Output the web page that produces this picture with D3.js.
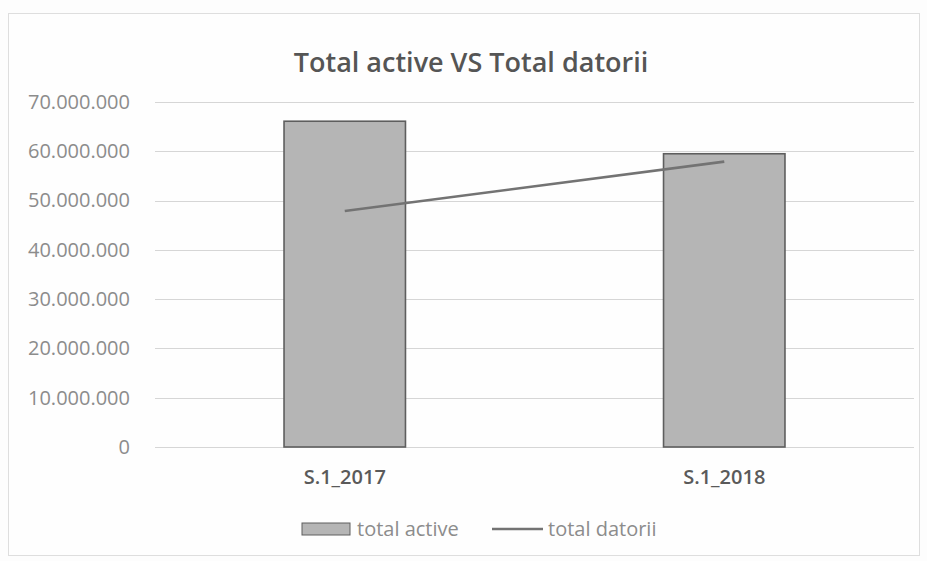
<!DOCTYPE html>
<html>
<head>
<meta charset="utf-8">
<script src="https://cdn.jsdelivr.net/npm/d3@7"></script>
<style>
  html, body { margin: 0; padding: 0; background: #fdfdfd; }
  svg { display: block; }
</style>
</head>
<body>
<svg id="chart" width="927" height="561"></svg>
<script>
// ---- data ----
const categories = ["S.1_2017", "S.1_2018"];
const totalActive = [66100000, 59500000];
const totalDatorii = [47900000, 57900000];
const yTicks = [0, 10000000, 20000000, 30000000, 40000000, 50000000, 60000000, 70000000];
const titleText = "Total active VS Total datorii";
const seriesNames = ["total active", "total datorii"];

// ---- layout ----
const W = 927, H = 561;
const plot = { left: 155, right: 914, top: 102, bottom: 447 };
const svg = d3.select("#chart");

// chart frame
svg.append("rect")
  .attr("x", 8.5).attr("y", 13.5).attr("width", 911).attr("height", 542)
  .attr("fill", "#fefefe").attr("stroke", "#dedede").attr("stroke-width", 1);

const x = d3.scaleBand().domain(categories).range([plot.left, plot.right]).padding(0);
const y = d3.scaleLinear().domain([0, 70000000]).range([plot.bottom, plot.top]);

const locale = d3.formatLocale({ decimal: ",", thousands: ".", grouping: [3], currency: ["", ""] });
const fmt = locale.format(",");

// gridlines
svg.append("g").selectAll("line").data(yTicks).join("line")
  .attr("x1", plot.left).attr("x2", plot.right)
  .attr("y1", d => Math.round(y(d)) + 0.5).attr("y2", d => Math.round(y(d)) + 0.5)
  .attr("stroke", "#d6d6d6").attr("stroke-width", 1);

// y axis labels
const yAxis = d3.axisLeft(y).tickValues(yTicks).tickFormat(fmt).tickSize(0).tickPadding(0);
const gy = svg.append("g").attr("transform", `translate(130,0)`).call(yAxis);
gy.select(".domain").remove();
gy.selectAll("text")
  .attr("font-family", "'Open Sans', sans-serif")
  .attr("font-size", 20)
  .attr("fill", "#8c8c8c");

// bars
const barFrac = 0.32;
const bw = x.bandwidth() * barFrac;
svg.append("g").selectAll("rect").data(categories).join("rect")
  .attr("x", d => x(d) + (x.bandwidth() - bw) / 2)
  .attr("y", (d, i) => y(totalActive[i]))
  .attr("width", bw)
  .attr("height", (d, i) => y(0) - y(totalActive[i]))
  .attr("fill", "#b5b5b5")
  .attr("stroke", "#5e5e5e").attr("stroke-width", 1.6);

// line
const line = d3.line()
  .x((d, i) => x(categories[i]) + x.bandwidth() / 2)
  .y(d => y(d));
svg.append("path").datum(totalDatorii)
  .attr("d", line)
  .attr("fill", "none").attr("stroke", "#737373").attr("stroke-width", 2.6);

// x axis labels
const xAxis = d3.axisBottom(x).tickSize(0).tickPadding(0);
const gx = svg.append("g").attr("transform", `translate(0,470)`).call(xAxis);
gx.select(".domain").remove();
gx.selectAll("text")
  .attr("font-family", "'Open Sans', sans-serif")
  .attr("font-size", 20)
  .attr("font-weight", 600)
  .attr("fill", "#5a5a5a");

// title
svg.append("text")
  .attr("x", 471).attr("y", 72)
  .attr("text-anchor", "middle")
  .attr("font-family", "'Open Sans', sans-serif")
  .attr("font-size", 27)
  .attr("font-weight", 600)
  .attr("fill", "#555")
  .text(titleText);

// legend
const lg = svg.append("g").attr("transform", "translate(302,529)");
lg.append("rect").attr("x", 0).attr("y", -6).attr("width", 48).attr("height", 12)
  .attr("fill", "#b5b5b5").attr("stroke", "#5e5e5e").attr("stroke-width", 1);
lg.append("text").attr("x", 55).attr("y", 7)
  .attr("font-family", "'Open Sans', sans-serif").attr("font-size", 20)
  .attr("fill", "#8c8c8c").text(seriesNames[0]);
lg.append("line").attr("x1", 190).attr("x2", 241).attr("y1", 0).attr("y2", 0)
  .attr("stroke", "#737373").attr("stroke-width", 2.6);
lg.append("text").attr("x", 246).attr("y", 7)
  .attr("font-family", "'Open Sans', sans-serif").attr("font-size", 20)
  .attr("fill", "#8c8c8c").text(seriesNames[1]);
</script>
</body>
</html>
